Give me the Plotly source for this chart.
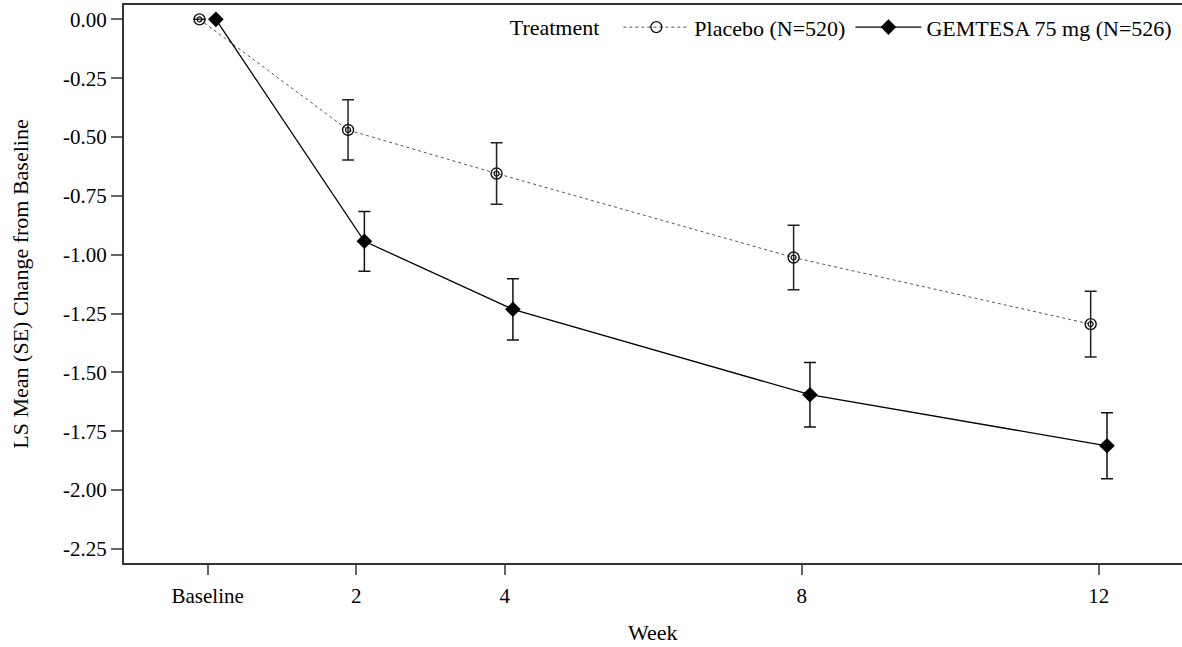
import plotly.graph_objects as go

# Data
weeks = [0, 2, 4, 8, 12]
week_labels = ["Baseline", "2", "4", "8", "12"]
placebo_mean = [0.00, -0.47, -0.655, -1.012, -1.295]
placebo_se = [0.0, 0.128, 0.131, 0.137, 0.140]
gemtesa_mean = [0.00, -0.943, -1.232, -1.595, -1.812]
gemtesa_se = [0.0, 0.127, 0.130, 0.137, 0.140]
y_ticks = [0.00, -0.25, -0.50, -0.75, -1.00, -1.25, -1.50, -1.75, -2.00, -2.25]
y_tick_labels = ["0.00", "-0.25", "-0.50", "-0.75", "-1.00", "-1.25", "-1.50", "-1.75", "-2.00", "-2.25"]
offset = 0.11

FONT = "Liberation Serif"

x_pl = [w - offset for w in weeks]
x_ge = [w + offset for w in weeks]

fig = go.Figure()

fig.add_trace(go.Scatter(
    x=x_pl, y=placebo_mean, mode="lines+markers", name="Placebo (N=520)",
    line=dict(color="#555555", width=1, dash="dot"),
    marker=dict(symbol="circle-open", size=11, color="#111111", line=dict(width=1.4)),
    error_y=dict(type="data", array=placebo_se, visible=True, color="#222222", thickness=1.5, width=6),
))
fig.add_trace(go.Scatter(
    x=x_pl, y=placebo_mean, mode="markers", showlegend=False, hoverinfo="skip",
    marker=dict(symbol="circle-open", size=5, color="#111111", line=dict(width=1.2)),
))
fig.add_trace(go.Scatter(
    x=x_ge, y=gemtesa_mean, mode="lines+markers", name="GEMTESA 75 mg (N=526)",
    line=dict(color="black", width=1.3),
    marker=dict(symbol="diamond", size=12, color="black"),
    error_y=dict(type="data", array=gemtesa_se, visible=True, color="#111111", thickness=1.5, width=6),
))

fig.update_layout(
    width=1182, height=647,
    margin=dict(l=124, r=0, t=5, b=84),
    paper_bgcolor="white", plot_bgcolor="white",
    font=dict(family=FONT, size=20, color="black"),
    showlegend=True,
    legend=dict(
        orientation="h", x=0.995, xanchor="right", y=0.96, yanchor="middle",
        bgcolor="rgba(0,0,0,0)", title=dict(text="Treatment  ", side="left", font=dict(size=22)),
        font=dict(size=22), itemwidth=66,
    ),
    xaxis=dict(
        range=[-1.127, 13.12], tickmode="array", tickvals=weeks, ticktext=week_labels,
        showgrid=False, zeroline=False, showline=True, linecolor="#333333", linewidth=2,
        mirror=True, ticks="outside", ticklen=10, tickcolor="#666666", tickwidth=1.5,
        tickfont=dict(size=21), ticklabelstandoff=3, automargin=False,
    ),
    yaxis=dict(
        range=[-2.31, 0.061], tickmode="array", tickvals=y_ticks, ticktext=y_tick_labels,
        showgrid=False, zeroline=False, showline=True, linecolor="#333333", linewidth=2,
        mirror=False, ticks="outside", ticklen=11, tickcolor="#666666", tickwidth=1.5,
        title=dict(text="LS Mean (SE) Change from Baseline", standoff=28, font=dict(size=22)),
        tickfont=dict(size=21),
    ),
    annotations=[dict(
        text="Week", xref="paper", yref="paper", x=0.5, y=0, xanchor="center",
        yanchor="middle", yshift=-69, showarrow=False, font=dict(size=22),
    )],
)

fig.write_html("out.html")
